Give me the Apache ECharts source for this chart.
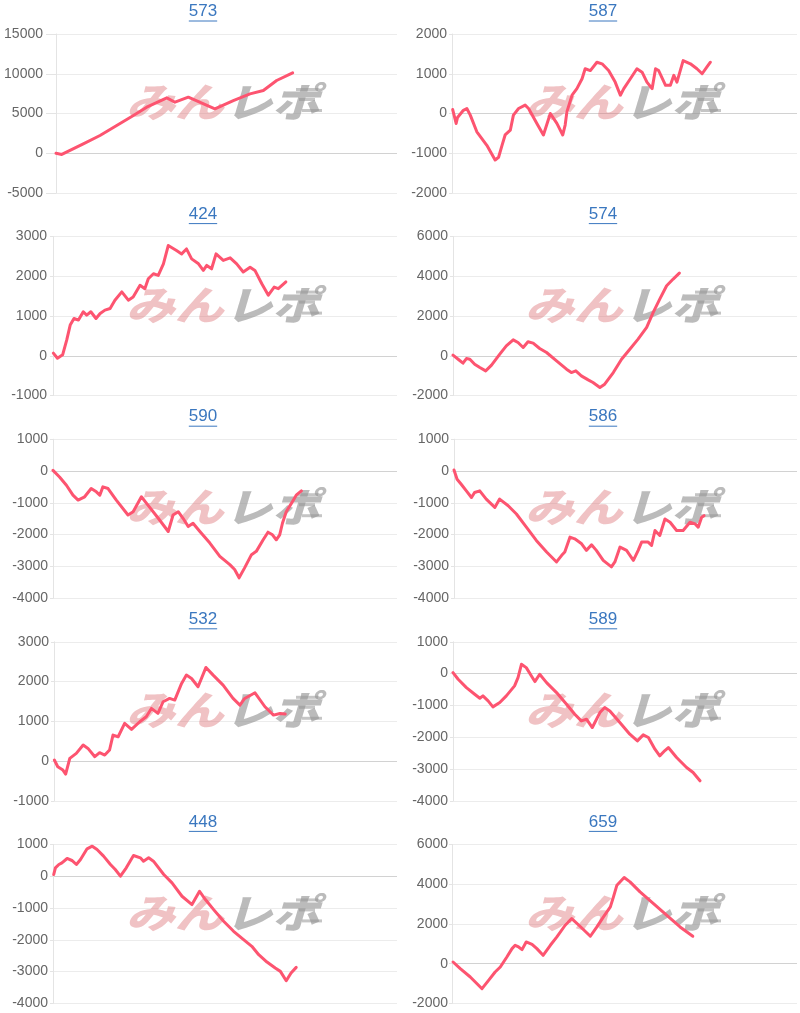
<!DOCTYPE html>
<html>
<head>
<meta charset="utf-8">
<script src="https://cdn.jsdelivr.net/npm/echarts@6/dist/echarts.min.js"></script>
<style>
html,body{margin:0;padding:0;background:#fff;}
#c{width:800px;height:1013px;}
</style>
</head>
<body>
<div id="c"></div>
<script>
// ---- data (x: share of the day's play, 0-100; y: balance) ----
const titles = ['573','587','424','574','590','586','532','589','448','659'];
const yMin  = [-5000,-2000,-1000,-2000,-4000,-4000,-1000,-4000,-4000,-2000];
const yMax  = [15000, 2000, 3000, 6000, 1000, 1000, 3000, 1000, 1000, 6000];
const yStep = [ 5000, 1000, 1000, 2000, 1000, 1000, 1000, 1000, 1000, 2000];

const s573 = [[0,0],[1.7,-150],[8,1180],[12.9,2230],[17.8,3480],[22.7,4740],[26.6,5790],[32.5,6970],[34.9,6420],[38.8,7050],[46.6,5590],[52,6630],[56.9,7470],[60.8,7890],[64.7,9150],[69.4,10110]];
const s587 = [[0.2,100],[1.2,-250],[1.6,-100],[3.3,80],[4.3,125],[5.3,-40],[7.2,-460],[10.1,-800],[12.5,-1170],[13.5,-1100],[14.5,-800],[15.4,-540],[16.9,-420],[17.8,-40],[19.3,125],[21.2,210],[22.2,125],[24.6,-250],[26.5,-540],[28.5,0],[30.4,-250],[32.1,-540],[32.8,-290],[33.3,40],[34.8,460],[36.2,625],[37.7,875],[38.6,1125],[40.1,1080],[42,1290],[43.5,1250],[45.4,1080],[47.3,790],[48.8,460],[49.8,625],[51.7,875],[53.6,1125],[55.1,1040],[56.5,790],[58,625],[59,1125],[59.9,1080],[61.9,710],[63.3,710],[64.3,960],[65.2,790],[67,1330],[69.1,1250],[71,1125],[72.5,1000],[73.9,1170],[74.9,1290]];
const s424 = [[0.1,70],[1.3,-60],[2.8,25],[4,400],[5,775],[6.1,940],[7.4,900],[8.8,1110],[9.8,1025],[11,1110],[12.5,940],[13.7,1066],[15.1,1150],[16.6,1190],[18,1400],[20,1610],[21.9,1400],[23.3,1480],[25.3,1775],[26.7,1690],[27.7,1940],[29.2,2066],[30.6,2025],[32.1,2315],[33.5,2775],[35.9,2650],[37.4,2565],[38.8,2690],[40.3,2440],[42.3,2315],[43.7,2150],[44.7,2275],[46.1,2190],[47.4,2565],[49.5,2400],[51.5,2465],[53.4,2315],[55.3,2110],[57.3,2230],[58.7,2150],[60.7,1815],[62.6,1525],[64.3,1730],[65.5,1690],[67.7,1860]];
const s574 = [[0,34],[1.5,-170],[2.9,-370],[3.9,-134],[4.9,-168],[6.3,-420],[7.8,-588],[9.5,-756],[11.2,-470],[13.6,84],[15.5,504],[17.5,806],[18.9,672],[20.4,420],[21.8,706],[23.3,638],[25.2,370],[27.2,168],[30.1,-252],[33,-672],[34.4,-840],[35.7,-756],[37.3,-1008],[39.3,-1210],[40.7,-1344],[42.7,-1596],[44.1,-1428],[46.6,-840],[49,-168],[51.4,336],[53.8,840],[56.3,1428],[58.2,2184],[60.1,2856],[62.1,3528],[64,3864],[65.8,4166]];
const s590 = [[0,20],[1.9,-187],[3.9,-447],[5.8,-760],[7.3,-915],[9.2,-811],[11.1,-551],[12.6,-655],[13.6,-760],[14.5,-500],[16,-551],[18.4,-915],[21.8,-1383],[23.3,-1280],[25.7,-811],[27.6,-1071],[30.6,-1487],[33.5,-1903],[34.9,-1383],[36.4,-1280],[37.8,-1487],[39.3,-1747],[40.7,-1643],[42.7,-1903],[45.6,-2267],[48.5,-2683],[51.4,-2943],[52.8,-3099],[54.1,-3359],[55.7,-3047],[57.7,-2631],[59.1,-2527],[61.1,-2163],[62.5,-1924],[63.8,-2007],[64.9,-2163],[65.9,-2007],[66.7,-1643],[67.8,-1280],[69.3,-1019],[70.7,-760],[72.2,-624]];
const s586 = [[0,31],[0.9,-260],[2.1,-416],[3.6,-624],[5.1,-832],[6,-676],[7.5,-624],[9.4,-884],[11.9,-1144],[13.3,-884],[13.8,-863],[15.8,-1092],[18.2,-1352],[21.1,-1768],[24,-2184],[27,-2548],[29.9,-2860],[31.4,-2652],[32.3,-2548],[33.8,-2080],[35.2,-2132],[37.2,-2288],[38.6,-2496],[40.1,-2319],[41.5,-2496],[43.5,-2808],[45.9,-3016],[46.9,-2860],[48.4,-2392],[50.3,-2496],[52.3,-2808],[53.7,-2496],[54.7,-2236],[56.6,-2236],[57.6,-2340],[58.6,-1872],[60,-2028],[61.5,-1508],[63,-1612],[64.9,-1872],[66.8,-1872],[68.8,-1612],[70.3,-1664],[71.2,-1768],[72.2,-1456],[72.9,-1404]];
const s532 = [[0.1,25],[1.1,-142],[2.6,-226],[3.4,-327],[4.6,67],[6.5,193],[8.5,402],[9.9,318],[11.9,109],[13.3,210],[14.8,151],[16.2,277],[17.2,654],[18.7,612],[20.6,947],[22.6,796],[25,989],[26.9,1115],[28.4,1324],[30.3,1198],[31.8,1492],[33.7,1575],[35.2,1534],[37.2,1953],[38.6,2162],[40.1,2078],[42,1869],[44.3,2355],[46.4,2162],[49.3,1911],[52.2,1575],[54.2,1408],[55.6,1575],[58.6,1718],[61.5,1366],[64,1156],[65.9,1198],[67.4,1181]];
const s589 = [[0,31],[1.5,-178],[3.9,-440],[6.3,-649],[7.8,-775],[8.7,-701],[10.2,-859],[11.6,-1047],[13.6,-911],[15.5,-701],[17.9,-387],[18.9,-126],[19.9,293],[21.3,188],[22.8,-73],[23.8,-251],[25.2,-21],[27.2,-283],[30.1,-597],[33,-963],[35.4,-1277],[37.3,-1487],[38.8,-1434],[40.5,-1696],[42.7,-1225],[44.1,-1068],[45.6,-1173],[48.5,-1539],[51.4,-1905],[53.6,-2115],[55.3,-1926],[56.8,-2010],[58.7,-2377],[60.1,-2586],[61.6,-2419],[62.6,-2324],[65,-2638],[67.9,-2953],[69.8,-3110],[71.8,-3371]];
const s448 = [[0.2,53],[0.7,263],[1.7,368],[2.6,420],[4.1,557],[5.5,494],[6.8,368],[8,525],[9.9,861],[11.4,945],[12.8,840],[14.7,630],[16.7,368],[18.1,210],[19.6,0],[21.3,263],[23.4,651],[25.4,578],[26.3,473],[27.8,578],[29.2,473],[32.2,53],[34.6,-210],[37.5,-630],[40.4,-893],[42.6,-473],[44.3,-735],[46.7,-1050],[49.6,-1418],[52.5,-1733],[55.4,-1995],[57.8,-2205],[59.8,-2468],[62.2,-2700],[64.6,-2888],[66.1,-2993],[67.8,-3287],[69.2,-3045],[70.7,-2867]];
const s659 = [[0.3,84],[2.4,-252],[5.3,-672],[8.7,-1260],[10.6,-840],[12.5,-420],[14,-168],[15.9,336],[17.4,756],[18.3,924],[19.3,840],[20.3,706],[21.5,1092],[23.2,974],[24.6,756],[26.4,420],[28.5,924],[30.4,1344],[32.8,1932],[34.7,2268],[37.1,1882],[40.1,1378],[42,1848],[43.9,2352],[45.9,2856],[46.8,3360],[47.8,3948],[49.9,4334],[51.6,4116],[54.5,3612],[58.4,3024],[62.2,2436],[66.1,1848],[69.8,1378]];

const seriesData = [s573,s587,s424,s574,s590,s586,s532,s589,s448,s659];

// ---- layout ----
const PANEL_H = 202.6;
const axisX   = [56,52,53,53,53,54,54,53,53,52];
const lblGap  = [13,5,6,5,5,5,5,5,5,4];
const FONT = '"Liberation Sans", Arial, Helvetica, sans-serif';
const LINE_COLOR = '#fd5470';
const TITLE_COLOR = '#3a77bf';

const chart = echarts.init(document.getElementById('c'), null, {renderer:'canvas'});

const measure = (function(){
  const cv = document.createElement('canvas').getContext('2d');
  return function(t, font){ cv.font = font; return cv.measureText(t).width; };
})();

const grids=[], xAxes=[], yAxes=[], series=[], titleOpts=[], graphics=[];
titles.forEach(function(t,i){
  const col = i%2, row = Math.floor(i/2);
  const top = row*PANEL_H;
  const colLeft = col*400;
  grids.push({left: colLeft + axisX[i], top: top + 34, height: 159, width: 397 - axisX[i], containLabel:false});
  xAxes.push({gridIndex:i, type:'value', min:0, max:100, show:false});
  const ticks=[];
  for(let v=yMin[i]; v<=yMax[i]; v+=yStep[i]) ticks.push(v);
  yAxes.push({
    gridIndex:i, type:'value', min:yMin[i], max:yMax[i], interval:yStep[i],
    axisLine:{show:true, lineStyle:{color:'#e4e4e4', width:1}},
    axisTick:{show:true, length: lblGap[i] > 8 ? 10 : 3, lineStyle:{color:'#e4e4e4'}},
    axisLabel:{margin: lblGap[i], color:'#666666', fontSize:14, fontFamily:FONT,
      formatter:function(v){ return String(v); }},
    splitLine:{show:true, lineStyle:{width:1, color: ticks.map(function(v){return v===0?'#d2d2d2':'#ececec';})}}
  });
  series.push({
    type:'line', xAxisIndex:i, yAxisIndex:i, data: seriesData[i],
    showSymbol:false, symbol:'none', smooth:false, z:5,
    lineStyle:{color:LINE_COLOR, width:3, join:'round', cap:'round'},
    itemStyle:{color:LINE_COLOR}, animation:false
  });
  const cx = colLeft + 203;
  const tFont = '17px ' + FONT;
  titleOpts.push({
    text: t, left: cx, top: top + 3, textAlign:'center', padding:0,
    textStyle:{color:TITLE_COLOR, fontSize:17, fontWeight:'normal', fontFamily:FONT}
  });
  const w = measure(t, tFont);
  graphics.push({type:'line', shape:{x1:cx - w/2, y1: top + 21, x2: cx + w/2, y2: top + 21},
    style:{stroke:TITLE_COLOR, lineWidth:1}, silent:true, z:10});
  // watermark
  const wx = colLeft + (col===0?126:125), wy = top + 82;
  graphics.push({type:'text', x: wx, y: wy, scaleX:1.22, z:1, silent:true,
    style:{text:'みん', font:'italic 900 40px "Noto Sans CJK JP"', fill:'rgba(222,120,125,0.45)', textVerticalAlign:'top'}});
  graphics.push({type:'text', x: wx + 99, y: wy, scaleX:1.18, z:1, silent:true,
    style:{text:'レポ', font:'italic 900 40px "Noto Sans CJK JP"', fill:'rgba(150,150,150,0.65)', textVerticalAlign:'top'}});
  [[6,22],[16,16],[27,20]].forEach(function(s,k){
    graphics.push({type:'rect', shape:{x: wx + 170 + k*3, y: wy + s[0], width: s[1], height:3}, z:1, silent:true,
      style:{fill:'rgba(150,150,150,0.55)'}});
  });
});

chart.setOption({
  animation:false,
  backgroundColor:'#ffffff',
  title: titleOpts,
  grid: grids,
  xAxis: xAxes,
  yAxis: yAxes,
  series: series,
  graphic: graphics
});
</script>
</body>
</html>
